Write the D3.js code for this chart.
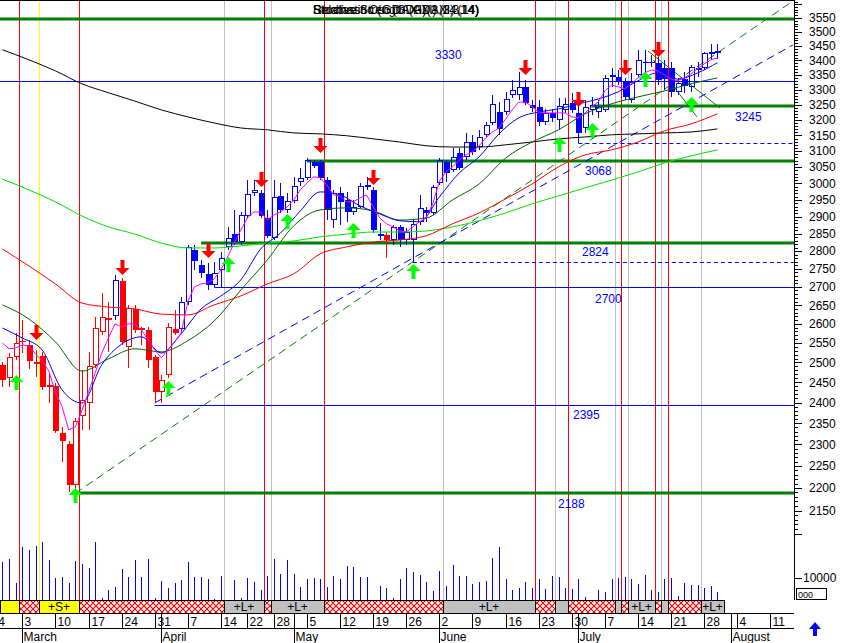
<!DOCTYPE html>
<html><head><meta charset="utf-8">
<script src="https://cdn.jsdelivr.net/npm/d3@7"></script>
<style>
body{margin:0;background:#fff}
svg{display:block}
text{font-family:Arial,"Liberation Sans",sans-serif}
</style>
</head><body>
<svg id="c" width="841" height="643"></svg>
<script>
// ---------------- DATA ----------------
const firstDay = -3; // trading-day index (0 = 3 March)
const openP = [2494,2461,2514,2556,2545,2500,2517,2443,2441,2327,
 2301,2207,2367,2399,2494,2579,2613,2621,2716,2540,
 2640,2589,2584,2514,2426,2468,2587,2587,2659,2803,
 2761,2736,2705,2747,2812,2849,2826,2902,2971,2971,
 2896,2838,2962,2920,2947,3004,3017,3066,3066,3010,
 2890,2971,2950,2914,2929,2995,2980,2844,2847,2832,
 2870,2832,2832,2885,2920,2911,3001,3066,3041,3094,
 3082,3129,3113,3152,3190,3226,3226,3283,3283,3310,
 3249,3243,3194,3223,3200,3233,3256,3223,3174,3233,
 3226,3233,3343,3343,3326,3266,3350,3395,3395,3392,
 3374,3374,3293,3336,3310,3367,3374,3426,3428];
const highP = [2502,2524,2576,2611,2558,2532,2527,2473,2448,2341,
 2308,2362,2481,2527,2618,2683,2659,2733,2725,2651,
 2651,2592,2592,2520,2468,2602,2637,2672,2818,2818,
 2775,2766,2769,2798,2870,2920,2914,3010,3010,2980,
 2920,3010,3001,2971,3020,3048,3078,3072,3072,3020,
 2980,2989,2974,2950,3001,3020,2989,2882,2855,2876,
 2876,2867,2890,2965,2929,2995,3078,3072,3110,3110,
 3158,3152,3168,3194,3283,3259,3293,3333,3360,3333,
 3266,3266,3236,3236,3273,3273,3290,3249,3266,3276,
 3266,3350,3374,3367,3340,3357,3437,3437,3419,3412,
 3402,3395,3340,3360,3385,3395,3430,3458,3458];
const lowP = [2438,2438,2506,2524,2483,2463,2431,2399,2327,2259,
 2191,2196,2334,2334,2486,2571,2527,2611,2545,2486,
 2576,2545,2486,2399,2399,2461,2571,2576,2651,2747,
 2725,2691,2700,2700,2803,2818,2818,2896,2962,2896,
 2838,2832,2911,2911,2941,2992,3010,3048,3010,2890,
 2867,2876,2885,2905,2926,2980,2852,2832,2781,2818,
 2812,2818,2769,2876,2885,2905,2995,3004,3035,3041,
 3072,3088,3104,3145,3184,3152,3216,3273,3266,3249,
 3226,3181,3184,3194,3168,3223,3223,3126,3158,3216,
 3207,3226,3310,3316,3266,3256,3340,3350,3378,3316,
 3300,3276,3283,3290,3293,3343,3367,3402,3406];
const closeP = [2456,2514,2550,2553,2504,2497,2438,2438,2331,2308,
 2207,2355,2406,2491,2589,2618,2615,2719,2553,2643,
 2584,2585,2506,2426,2456,2592,2576,2659,2812,2772,
 2738,2705,2738,2781,2838,2826,2905,2968,2980,2902,
 2844,2959,2920,2947,2992,3017,3072,3054,3017,2920,
 2971,2944,2914,2929,2992,2989,2861,2849,2832,2870,
 2832,2855,2879,2926,2911,2989,3072,3032,3082,3048,
 3129,3098,3145,3184,3252,3171,3270,3300,3310,3256,
 3240,3194,3223,3207,3246,3253,3233,3158,3243,3249,
 3243,3340,3350,3326,3276,3326,3402,3392,3390,3333,
 3336,3293,3323,3313,3378,3374,3426,3430,3433];
const volume = [17300,18600,7700,24100,22700,24500,26400,18200,10000,10500,
 7700,17700,16400,14500,26400,900,4500,5900,14100,10500,
 18200,10500,18600,900,8600,5500,7700,9100,17300,10500,
 10500,9500,500,10900,0,9100,900,10000,8200,4500,
 10900,18600,11800,18200,11800,5900,9500,10000,9500,5900,
 10900,9500,15500,15000,10500,10500,0,6400,5500,900,
 9500,14500,12700,11400,8200,4100,13200,6400,15900,10900,
 10900,7300,8200,8600,19100,24100,9500,4500,5500,8200,
 5500,9500,5000,10900,10500,5500,5000,9500,1400,0,
 4500,3600,9500,10000,10500,9500,7300,11400,4500,3600,
 9500,10000,1800,7700,6800,6800,5500,6400,3600];
const redCandleDays = [-3,-2,-1,0,1,2,3,4,5,6,7,8,9,10,11,12,13,15,16,17,18,19,20,21,22,23,55];

// moving averages
const maFastValues = [2550,2535,2537,2545,2542,2522,2504,2478,2426,2391,
 2334,2341,2380,2426,2473,2524,2563,2600,2592,2600,
 2600,2584,2558,2532,2512,2532,2553,2576,2659,2700,
 2708,2711,2722,2747,2783,2823,2861,2896,2914,2914,
 2890,2905,2914,2929,2950,2980,3001,3020,3017,2995,
 2965,2962,2944,2944,2956,2965,2929,2896,2879,2870,
 2858,2855,2870,2885,2896,2938,3007,3035,3051,3072,
 3088,3098,3117,3142,3161,3174,3203,3233,3259,3259,
 3243,3226,3223,3223,3223,3223,3210,3207,3223,3243,
 3259,3296,3316,3310,3303,3320,3340,3357,3367,3364,
 3350,3336,3330,3340,3354,3371,3388,3402,3409];
const maBlueDays = [-3,0,3,6,9,12,15,18,21,24,27,30,33,36,39,42,45,48,51,54,57,60,63,66,69,72,75,78,81,84,87,90,93,96,99,102,105];
const maBlueValues = [2589,2563,2532,2431,2399,2494,2547,2566,2524,2574,2640,2675,2719,2806,2852,2917,2974,2965,2932,2908,2888,2885,2959,3032,3082,3155,3207,3226,3236,3253,3269,3293,3330,3357,3336,3357,3392];
const maSlowDays = [-3,1,5,9,13,17,21,25,29,33,37,41,45,49,53,57,61,65,69,73,77,81,85,89,93,97,101,105];
const maDarkGreen = [2651,2613,2553,2478,2509,2535,2527,2556,2608,2691,2775,2873,2920,2926,2917,2890,2896,2950,2998,3078,3129,3168,3220,3253,3276,3296,3320,3340];
const maRed = [2806,2758,2708,2656,2645,2640,2626,2624,2651,2675,2708,2736,2792,2812,2826,2832,2844,2879,2911,2953,2998,3051,3088,3104,3129,3165,3187,3220];
const maLightGreen = [3013,2980,2944,2902,2870,2849,2823,2809,2809,2815,2823,2829,2841,2849,2855,2855,2858,2870,2888,2911,2938,2962,2986,3010,3035,3063,3085,3104];
const maBlack = [3437,3402,3364,3320,3290,3262,3233,3210,3190,3174,3168,3158,3155,3149,3139,3129,3117,3113,3113,3120,3129,3139,3145,3152,3155,3158,3161,3171];

// signals
const sellDays = [2,15,28,36,45,53,76,84,91,96];
const sellPrice = [2558,2733,2781,2989,3095,2995,3350,3243,3350,3412];
const buyDays = [-1,8,22,31,40,50,59,81,86,94,101];
const buyPrice = [2468,2200,2453,2783,2908,2882,2764,3145,3190,3360,3276];

// levels
const greenLevels = [3545,3245,3068,2824,2188];
const greenLevelFrom = [-6,86,43,27,8];
const blueLevels = [3330,2700,2395];
const blueLevelFrom = [-6,29,20];
const dashedLevels = [3126,2769];
const dashedLevelFrom = [84,59];
const levelLabels = ["3330","3245","3068","2824","2700","2395","2188"];

// trend lines [day, price]
const trendGreen = [[8,2188],[116,3605]];
const trendBlue = [[20,2399],[116.4,3454]];
const fanLines = [[[94.5,3433],[105.4,3239]],[[95.3,3402],[101.9,3210]]];

// vertical marker lines (between days)
const redLineDays = [-0.5,8.5,36.5,45.5,77.5,82.5,90.5,95.5,97.5];
const grayLineDays = [30.5,37.5,63.5,80.5,89.5,91.5,96.5,102.5];
const yellowLineDays = [2.5];

// state band
const bandFrom = [-6,-0.5,2.5,8.5,30.5,36.5,37.5,45.5,63.5,77.5,80.5,82.5,89.5,90.5,91.5,95.5,96.5,97.5,102.5];
const bandTo   = [-0.5,2.5,8.5,30.5,36.5,37.5,45.5,63.5,77.5,80.5,82.5,89.5,90.5,91.5,95.5,96.5,97.5,102.5,106];
const bandState = ["S","N","S","N","L","N","L","N","L","N","L","N","L","N","L","N","L","N","L"];
const bandText  = ["","","+S+","","+L+","","+L+","","+L+","","","","","","+L+","","","","+L+"];

// date axis
const dayTickDays = [-5,0,5,10,15,20,25,30,34,38,43,48,53,58,63,68,73,78,83,88,93,98,103,108,113];
const dayTickLabels = ["24","3","10","17","24","31","7","14","22","28","5","12","19","26","2","9","16","23","30","7","14","21","28","4","11"];
const monthDays = [0,21,41,63,84,107];
const monthLabels = ["March","April","May","June","July","August"];

// price axis
const priceTicks = d3.range(2100, 3620, 10);
const priceLabels = d3.range(2150, 3551, 50);
const volumeTick = 10000;

// overlapping indicator titles
const titles = ["Relative Strength (GDAXI) (14)","Stochastic Osc (GDAXI) (3,3,14)","Stochastic (GDAXI)(3,14,14)"];

// ---------------- DRAW ----------------
const svg = d3.select('#c');
const plotR = 794, plotB = 600;
const x = d3.scaleLinear().domain([0,103]).range([22.3,704.2]);
const y = d3.scaleLog().domain([2200,3550]).range([488,18]);
const yv = d3.scaleLinear().domain([0,10000]).range([600,578]);
const px = d => Math.round(x(d)) + 0.5;
const py = p => Math.round(y(p)) + 0.5;

svg.append('rect').attr('width',841).attr('height',643).attr('fill','#fff');
const defs = svg.append('defs');
defs.append('clipPath').attr('id','plot').append('rect').attr('x',0).attr('y',0).attr('width',plotR).attr('height',plotB);
const pat = defs.append('pattern').attr('id','hatch').attr('patternUnits','userSpaceOnUse').attr('width',6).attr('height',6);
pat.append('rect').attr('width',6).attr('height',6).attr('fill','#fff');
pat.append('path').attr('d','M0,0L6,6M6,0L0,6').attr('stroke','#ff0000').attr('stroke-width',1.2);

const g = svg.append('g').attr('clip-path','url(#plot)');

// vertical marker lines
function vlines(days, color){
  g.selectAll(null).data(days).enter().append('line')
    .attr('x1',d=>px(d)).attr('x2',d=>px(d)).attr('y1',0).attr('y2',plotB)
    .attr('stroke',color).attr('stroke-width',1).attr('shape-rendering','crispEdges');
}
vlines(grayLineDays,'#c0c0c0');
vlines(yellowLineDays,'#ffff00');
vlines(redLineDays,'#ff0000');

// horizontal levels
function hlevels(vals, from, color, width, dash){
  g.selectAll(null).data(vals).enter().append('line')
    .attr('x1',(d,i)=>Math.max(0,x(from[i]))).attr('x2',plotR)
    .attr('y1',d=>width>1?Math.round(y(d)):py(d)).attr('y2',d=>width>1?Math.round(y(d)):py(d))
    .attr('stroke',color).attr('stroke-width',width)
    .attr('stroke-dasharray',dash||null);
}
hlevels(blueLevels, blueLevelFrom, '#0000ff', 1);
hlevels(dashedLevels, dashedLevelFrom, '#0000ff', 1, '4,3');
hlevels(greenLevels, greenLevelFrom, '#008000', 3);

// trend lines
function tline(pts, color, dash){
  g.append('line').attr('x1',x(pts[0][0])).attr('y1',y(pts[0][1]))
    .attr('x2',x(pts[1][0])).attr('y2',y(pts[1][1]))
    .attr('stroke',color).attr('stroke-width',1).attr('stroke-dasharray',dash||null);
}
tline(trendGreen,'#008000','8,5');
tline(trendBlue,'#0000ff','8,5');
fanLines.forEach(f=>tline(f,'#008000'));

// volume
const days = d3.range(firstDay, firstDay + closeP.length);
g.selectAll(null).data(days.filter((d,i)=>volume[i]>0)).enter().append('line')
  .attr('x1',d=>px(d)).attr('x2',d=>px(d))
  .attr('y1',plotB).attr('y2',d=>yv(volume[d-firstDay]))
  .attr('stroke','#0000ff').attr('stroke-width',1).attr('shape-rendering','crispEdges');

// candles
const cg = g.append('g').attr('shape-rendering','crispEdges');
days.forEach((d,i)=>{
  const col = redCandleDays.includes(d) ? '#ff0000' : '#0000ff';
  const cx = px(d);
  const o = openP[i], c = closeP[i], hi = highP[i], lo = lowP[i];
  const top = Math.round(y(Math.max(o,c))), bot = Math.max(Math.round(y(Math.min(o,c))), top+1);
  const yh = Math.round(y(hi)), yl = Math.round(y(lo));
  if (yh < top) cg.append('line').attr('x1',cx).attr('x2',cx).attr('y1',yh).attr('y2',top).attr('stroke',col);
  if (yl > bot) cg.append('line').attr('x1',cx).attr('x2',cx).attr('y1',bot).attr('y2',yl).attr('stroke',col);
  if (c >= o) {
    cg.append('rect').attr('x',cx-2.5).attr('y',top+0.5).attr('width',5).attr('height',Math.max(bot-top-1,1))
      .attr('fill','none').attr('stroke',col);
  } else {
    cg.append('rect').attr('x',cx-3).attr('y',top).attr('width',6).attr('height',Math.max(bot-top,1))
      .attr('fill',col);
  }
});

// moving averages
const lineD = d3.line().x(d=>x(d[0])).y(d=>y(d[1]));
const lineS = d3.line().x(d=>x(d[0])).y(d=>y(d[1])).curve(d3.curveMonotoneX);
function ma(dd, vv, color, gen){
  g.append('path').attr('d',gen(dd.map((d,i)=>[d,vv[i]]))).attr('fill','none').attr('stroke',color).attr('stroke-width',1);
}
ma(maSlowDays, maBlack, '#000000', lineS);
ma(maSlowDays, maLightGreen, '#00e000', lineS);
ma(maSlowDays, maRed, '#ff0000', lineS);
ma(maSlowDays, maDarkGreen, '#006400', lineS);
ma(maBlueDays, maBlueValues, '#0000ff', lineS);
ma(days, maFastValues, '#ff00ff', lineD);

// arrows
function downArrow(cx, ty){ return `M${cx-2},${ty-15}L${cx+2},${ty-15}L${cx+2},${ty-7}L${cx+7},${ty-7}L${cx},${ty}L${cx-7},${ty-7}L${cx-2},${ty-7}Z`; }
function upArrow(cx, ty){ return `M${cx-2},${ty+15}L${cx+2},${ty+15}L${cx+2},${ty+7}L${cx+7},${ty+7}L${cx},${ty}L${cx-7},${ty+7}L${cx-2},${ty+7}Z`; }
g.selectAll(null).data(sellDays).enter().append('path')
  .attr('d',(d,i)=>downArrow(Math.round(x(d))+0.5, Math.round(y(sellPrice[i])))).attr('fill','#ff0000');
g.selectAll(null).data(buyDays).enter().append('path')
  .attr('d',(d,i)=>upArrow(Math.round(x(d))+0.5, Math.round(y(buyPrice[i])))).attr('fill','#00ff00');

// level labels (layout positions)
const labelLayout = {"3330":[435,-22],"3245":[735,15],"3068":[585,14],"2824":[582,13],"2700":[595,16],"2395":[573,14],"2188":[558,15]};
levelLabels.forEach(t=>{
  const [lx, off] = labelLayout[t];
  g.append('text').attr('x',lx).attr('y',y(+t)+off).attr('fill','#0000ff').attr('font-size',12).text(t);
});

// top border and overlapping titles
svg.append('line').attr('x1',0).attr('x2',plotR).attr('y1',0.5).attr('y2',0.5).attr('stroke','#000');
titles.forEach(t=>{
  svg.append('text').attr('x',313).attr('y',14).attr('font-size',12).attr('fill','#000')
    .attr('textLength',166).attr('lengthAdjust','spacingAndGlyphs').text(t);
});

// right axis
const ax = svg.append('g').attr('shape-rendering','crispEdges');
ax.append('line').attr('x1',plotR+0.5).attr('x2',plotR+0.5).attr('y1',0).attr('y2',plotB).attr('stroke','#000');
ax.selectAll(null).data(priceTicks.filter(t=>y(t)>=0)).enter().append('line')
  .attr('x1',plotR).attr('x2',t=>t%50===0?plotR+8:plotR+4)
  .attr('y1',t=>py(t)).attr('y2',t=>py(t)).attr('stroke','#000');
ax.selectAll(null).data(priceLabels).enter().append('text')
  .attr('x',809).attr('y',t=>y(t)).attr('dy','0.36em').attr('font-size',12).text(t=>t);
ax.append('line').attr('x1',plotR).attr('x2',plotR+8).attr('y1',Math.round(yv(volumeTick))+0.5).attr('y2',Math.round(yv(volumeTick))+0.5).attr('stroke','#000');
ax.append('text').attr('x',803).attr('y',yv(volumeTick)).attr('dy','0.36em').attr('font-size',12).text(volumeTick);
ax.append('rect').attr('x',796.5).attr('y',588.5).attr('width',30).attr('height',11).attr('fill','#fff').attr('stroke','#000');
ax.append('text').attr('x',798).attr('y',598).attr('font-size',9).text('000');

// state band
const bg = svg.append('g').attr('shape-rendering','crispEdges');
bandFrom.forEach((f,i)=>{
  const x0 = Math.max(0, Math.round(x(f))), x1 = Math.round(x(bandTo[i]));
  const fill = bandState[i]==='S' ? '#ffff00' : bandState[i]==='L' ? '#c0c0c0' : 'url(#hatch)';
  bg.append('rect').attr('x',x0+0.5).attr('y',600.5).attr('width',x1-x0).attr('height',13).attr('fill',fill).attr('stroke','#000');
  if (bandText[i]) bg.append('text').attr('x',(x0+x1)/2).attr('y',611).attr('text-anchor','middle').attr('font-size',12).text(bandText[i]);
});

// date axis
const da = svg.append('g').attr('shape-rendering','crispEdges');
da.append('line').attr('x1',0).attr('x2',plotR).attr('y1',613.5).attr('y2',613.5).attr('stroke','#000');
da.append('line').attr('x1',0).attr('x2',plotR).attr('y1',628.5).attr('y2',628.5).attr('stroke','#000');
dayTickDays.forEach((d,i)=>{
  const xx = px(d);
  da.append('line').attr('x1',xx).attr('x2',xx).attr('y1',614).attr('y2',629).attr('stroke','#000');
  da.append('text').attr('x',xx+2).attr('y',626).attr('font-size',12).text(dayTickLabels[i]);
});
monthDays.forEach((d,i)=>{
  const xx = px(d);
  da.append('line').attr('x1',xx).attr('x2',xx).attr('y1',614).attr('y2',643).attr('stroke','#000');
  da.append('text').attr('x',xx+1).attr('y',641).attr('font-size',12).text(monthLabels[i]);
});

// blue arrow bottom-right
svg.append('path').attr('d','M815,622L821,629L817,629L817,636L813,636L813,629L809,629Z').attr('fill','#0000ff');
</script>
</body></html>
